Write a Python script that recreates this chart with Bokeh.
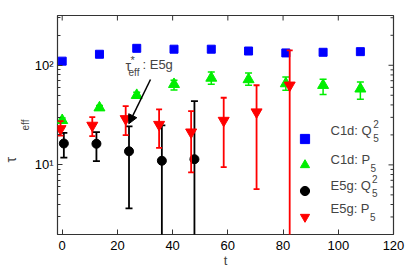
import math
from bokeh.plotting import figure
from bokeh.models import (Range1d, FixedTicker, Label, Arrow, NormalHead, Legend,
                          LegendItem, Title)
from bokeh.embed import file_html
from bokeh.resources import INLINE

# ---- data ----
t_c1d = [0, 13.5, 27, 40.5, 54, 67.5, 81, 94.5, 108]
c1d_q2 = [110, 129, 148, 145, 145, 139, 133, 135, 137]
c1d_q2_lo = [107, 126, 144, 141, 141, 134, 128, 129, 130]
c1d_q2_hi = [113, 132, 152, 149, 149, 144, 138, 141, 144]

c1d_p = [28, 37.5, 50, 64.4, 74.5, 72, 65.5, 63, 58]
c1d_p_lo = [26.5, 35.5, 46.7, 56.4, 64.4, 63, 56, 51, 45.5]
c1d_p_hi = [29.5, 39.5, 53.5, 70.6, 85.7, 83.6, 76.2, 72.3, 68]

t_e5g_q2 = [0.6, 12.4, 24.2, 36.1, 47.9]
e5g_q2 = [16.4, 16.3, 13.7, 11.0, 11.4]
e5g_q2_lo = [11.8, 10.9, 3.66, 1.0, 1.0]
e5g_q2_hi = [21.0, 21.3, 24.4, 24.9, 43.6]

t_e5g_p = [-0.6, 10.9, 23.0, 35.1, 46.7, 58.5, 70.4, 82.4]
e5g_p = [23.0, 24.9, 29.0, 25.4, 21.3, 27.9, 33.9, 63.0]
e5g_p_lo = [19.7, 19.4, 19.9, 14.8, 8.4, 9.5, 5.7, 1.0]
e5g_p_hi = [27.5, 30.2, 38.9, 36.0, 34.7, 47.2, 63.0, 141.0]

x_range = (-1.7, 120)
y_range = (2, 316)
x_ticks = [0, 20, 40, 60, 80, 100, 120]
y_ticks = [10, 100]
y_tick_labels = {10: "10\u00b9", 100: "10\u00b2"}
y_minor = [2, 3, 4, 5, 6, 7, 8, 9, 20, 30, 40, 50, 60, 70, 80, 90, 200, 300]

legend_labels = ["C1d: Q", "C1d: P", "E5g: Q", "E5g: P"]
legend_sup = ["2", "", "2", ""]
legend_sub = ["5", "5", "5", "5"]

FONT = "Liberation Sans"
FRAME = "#333333"

p = figure(width=409, height=270, y_axis_type="log",
           x_range=Range1d(*x_range), y_range=Range1d(*y_range),
           output_backend="svg", toolbar_location=None,
           min_border_left=57, min_border_right=16, min_border_top=15,
           min_border_bottom=36)
p.grid.visible = False
p.outline_line_color = FRAME
p.outline_line_width = 1.2

xb = p.xaxis[0]
xb.ticker = FixedTicker(ticks=x_ticks)
yl = p.yaxis[0]
yl.ticker = FixedTicker(ticks=y_ticks, minor_ticks=y_minor)
yl.major_label_overrides = y_tick_labels
for ax, minor in ((xb, False), (yl, True)):
    ax.axis_line_color = None
    ax.major_tick_in = 5
    ax.major_tick_out = 0
    ax.minor_tick_in = 3 if minor else 0
    ax.minor_tick_out = 0
    ax.major_tick_line_color = FRAME
    ax.minor_tick_line_color = FRAME if minor else None
    ax.major_label_text_font = FONT
    ax.major_label_text_color = "black"
    ax.major_label_text_font_size = "13px"
xb.major_label_standoff = 6
yl.major_label_standoff = 4

# x axis label
xb.axis_label = "t"
xb.axis_label_text_font = FONT
xb.axis_label_text_font_size = "13px"
xb.axis_label_text_font_style = "normal"
xb.axis_label_standoff = 0

# y axis label tau_eff: two titles in the left panel
p.add_layout(Title(text="eff", text_font=FONT, text_font_size="10px",
                   text_font_style="normal", align="left", vertical_align="middle",
                   offset=104, standoff=0),
             "left")
p.add_layout(Title(text="\u03c4", text_font=FONT, text_font_size="14px",
                   text_font_style="normal", align="left", offset=72, standoff=0),
             "left")

# mirrored ticks on the top and right frame edges
p.ray(x=x_ticks, y=[y_range[1]] * len(x_ticks), length=5, length_units="screen",
      angle=-math.pi / 2, line_color=FRAME, line_width=1)
p.ray(x=[x_range[1]] * len(y_ticks), y=y_ticks, length=5, length_units="screen",
      angle=math.pi, line_color=FRAME, line_width=1)
p.ray(x=[x_range[1]] * len(y_minor), y=y_minor, length=3, length_units="screen",
      angle=math.pi, line_color=FRAME, line_width=1)


# ---- series ----
def series(t, y, lo, hi, color, marker, size, lw, cap):
    p.segment(x0=t, y0=lo, x1=t, y1=hi, line_color=color, line_width=lw)
    p.scatter(x=t, y=lo, marker="dash", size=cap, line_color=color, line_width=lw)
    p.scatter(x=t, y=hi, marker="dash", size=cap, line_color=color, line_width=lw)
    return p.scatter(x=t, y=y, marker=marker, size=size, fill_color=color,
                     line_color=color, line_width=1)


r1 = series(t_c1d, c1d_q2, c1d_q2_lo, c1d_q2_hi, "#0000ff", "square", 8, 1.2, 5)
r2 = series(t_c1d, c1d_p, c1d_p_lo, c1d_p_hi, "#00ee00", "triangle", 11, 1.5, 7)
r3 = series(t_e5g_q2, e5g_q2, e5g_q2_lo, e5g_q2_hi, "black", "circle", 9, 1.8, 7)
r4 = series(t_e5g_p, e5g_p, e5g_p_lo, e5g_p_hi, "#ff0000", "inverted_triangle", 11, 1.8, 6)

# legend: markers from the legend, texts placed as labels (sub/superscripts)
legend = Legend(items=[LegendItem(label=" ", renderers=[r]) for r in (r1, r2, r3, r4)],
                location=(236, 6.5), glyph_width=23, glyph_height=23, spacing=3,
                padding=0, margin=0, border_line_alpha=0, background_fill_alpha=0,
                label_standoff=0, label_width=4, label_height=10, label_text_font=FONT,
                label_text_font_size="13px")
p.add_layout(legend)

main_y = [104, 74.7, 49, 25.7]
sup_pos = [(315.7, 110.7), None, (314.5, 56), None]
sub_pos = [(315.7, 97), (313, 67), (314.5, 41.5), (312.5, 17.5)]
for lab, sup, sub, my, sp, bp in zip(legend_labels, legend_sup, legend_sub, main_y,
                                     sup_pos, sub_pos):
    p.add_layout(Label(x=273, y=my, x_units="screen", y_units="screen", text=lab,
                       text_font=FONT, text_font_size="13px", text_baseline="middle"))
    if sup:
        p.add_layout(Label(x=sp[0], y=sp[1], x_units="screen", y_units="screen", text=sup,
                           text_font=FONT, text_font_size="10px", text_baseline="middle"))
    p.add_layout(Label(x=bp[0], y=bp[1], x_units="screen", y_units="screen", text=sub,
                       text_font=FONT, text_font_size="10px", text_baseline="middle"))

# annotation tau*_eff: E5g with arrow
p.add_layout(Label(x=68, y=169, x_units="screen", y_units="screen", text="\u03c4",
                   text_font=FONT, text_font_size="14px", text_baseline="middle"))
p.add_layout(Label(x=73, y=175, x_units="screen", y_units="screen", text="*",
                   text_font=FONT, text_font_size="11px", text_baseline="middle"))
p.add_layout(Label(x=71, y=162, x_units="screen", y_units="screen", text="eff",
                   text_font=FONT, text_font_size="10px", text_baseline="middle"))
p.add_layout(Label(x=85, y=170, x_units="screen", y_units="screen", text=": E5g",
                   text_font=FONT, text_font_size="13px", text_baseline="middle"))
p.add_layout(Arrow(x_start=93, y_start=155, x_end=71.3, y_end=110.7,
                   start_units="screen", end_units="screen", line_width=1.5,
                   end=NormalHead(size=9, fill_color="black", line_color="black")))

open("out.html", "w").write(file_html(p, INLINE))
